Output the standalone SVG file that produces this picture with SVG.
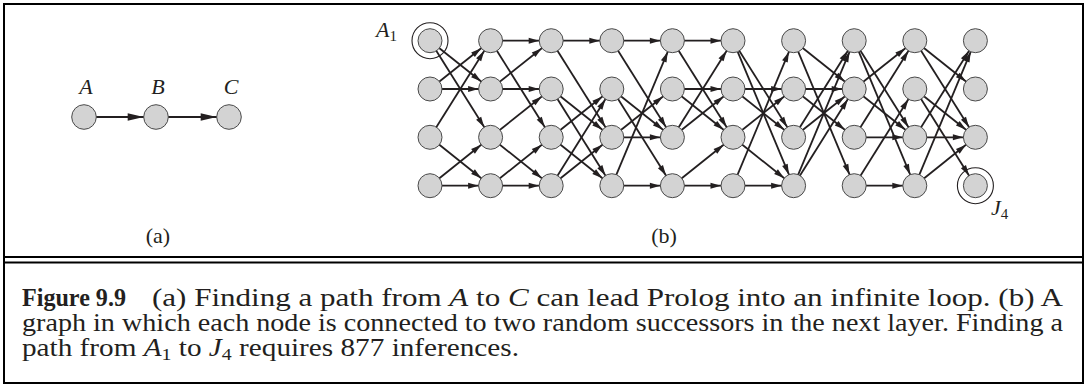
<svg xmlns="http://www.w3.org/2000/svg" width="1087" height="387" viewBox="0 0 1087 387">
<style>
.nd{fill:#d3d3d3;stroke:#4a4a4a;stroke-width:1}
.ring{fill:none;stroke:#231f20;stroke-width:1.1}
.e{stroke:#231f20;stroke-width:1.8;fill:none;marker-end:url(#ah)}
.ea{stroke:#231f20;stroke-width:2.2;fill:none;marker-end:url(#ahb)}
.t{font-family:"Liberation Serif",serif;fill:#231f20}
.m{font-family:"Liberation Serif",serif;font-style:italic;fill:#231f20}
.frame{fill:none;stroke:#000;stroke-width:2}
</style>
<defs>
<marker id="ah" markerUnits="userSpaceOnUse" markerWidth="10.5" markerHeight="6" refX="22.5" refY="3" orient="auto" overflow="visible"><path d="M0,0 L10.5,3 L0,6 z" fill="#231f20"/></marker>
<marker id="ahb" markerUnits="userSpaceOnUse" markerWidth="16" markerHeight="7.4" refX="28.3" refY="3.7" orient="auto" overflow="visible"><path d="M0,0 L16,3.7 L0,7.4 z" fill="#231f20"/></marker>
</defs>
<rect class="frame" x="4" y="4" width="1079" height="379"/>
<line x1="4" y1="257" x2="1083" y2="257" stroke="#000" stroke-width="2"/>
<line x1="4" y1="262.5" x2="1083" y2="262.5" stroke="#000" stroke-width="2"/>
<g id="connectors">
<line class="ea" x1="84" y1="117" x2="156" y2="117"/>
<line class="ea" x1="156" y1="117" x2="229" y2="117"/>
<line class="e" x1="430" y1="40.7" x2="490.6" y2="89"/>
<line class="e" x1="430" y1="40.7" x2="490.6" y2="137.3"/>
<line class="e" x1="430" y1="89" x2="490.6" y2="40.7"/>
<line class="e" x1="430" y1="89" x2="490.6" y2="89"/>
<line class="e" x1="430" y1="137.3" x2="490.6" y2="40.7"/>
<line class="e" x1="430" y1="137.3" x2="490.6" y2="185.7"/>
<line class="e" x1="430" y1="185.7" x2="490.6" y2="137.3"/>
<line class="e" x1="430" y1="185.7" x2="490.6" y2="185.7"/>
<line class="e" x1="490.6" y1="40.7" x2="551.2" y2="40.7"/>
<line class="e" x1="490.6" y1="40.7" x2="551.2" y2="137.3"/>
<line class="e" x1="490.6" y1="89" x2="551.2" y2="40.7"/>
<line class="e" x1="490.6" y1="89" x2="551.2" y2="89"/>
<line class="e" x1="490.6" y1="137.3" x2="551.2" y2="89"/>
<line class="e" x1="490.6" y1="137.3" x2="551.2" y2="185.7"/>
<line class="e" x1="490.6" y1="185.7" x2="551.2" y2="137.3"/>
<line class="e" x1="490.6" y1="185.7" x2="551.2" y2="185.7"/>
<line class="e" x1="551.2" y1="40.7" x2="611.8" y2="40.7"/>
<line class="e" x1="551.2" y1="40.7" x2="611.8" y2="137.3"/>
<line class="e" x1="551.2" y1="89" x2="611.8" y2="137.3"/>
<line class="e" x1="551.2" y1="89" x2="611.8" y2="185.7"/>
<line class="e" x1="551.2" y1="137.3" x2="611.8" y2="89"/>
<line class="e" x1="551.2" y1="137.3" x2="611.8" y2="185.7"/>
<line class="e" x1="551.2" y1="185.7" x2="611.8" y2="89"/>
<line class="e" x1="551.2" y1="185.7" x2="611.8" y2="137.3"/>
<line class="e" x1="611.8" y1="40.7" x2="672.4" y2="40.7"/>
<line class="e" x1="611.8" y1="40.7" x2="672.4" y2="137.3"/>
<line class="e" x1="611.8" y1="89" x2="672.4" y2="137.3"/>
<line class="e" x1="611.8" y1="89" x2="672.4" y2="185.7"/>
<line class="e" x1="611.8" y1="137.3" x2="672.4" y2="89"/>
<line class="e" x1="611.8" y1="137.3" x2="672.4" y2="137.3"/>
<line class="e" x1="611.8" y1="185.7" x2="672.4" y2="40.7"/>
<line class="e" x1="611.8" y1="185.7" x2="672.4" y2="185.7"/>
<line class="e" x1="672.4" y1="40.7" x2="733" y2="40.7"/>
<line class="e" x1="672.4" y1="40.7" x2="733" y2="137.3"/>
<line class="e" x1="672.4" y1="89" x2="733" y2="89"/>
<line class="e" x1="672.4" y1="89" x2="733" y2="137.3"/>
<line class="e" x1="672.4" y1="137.3" x2="733" y2="40.7"/>
<line class="e" x1="672.4" y1="137.3" x2="733" y2="89"/>
<line class="e" x1="672.4" y1="185.7" x2="733" y2="137.3"/>
<line class="e" x1="672.4" y1="185.7" x2="733" y2="185.7"/>
<line class="e" x1="733" y1="40.7" x2="793.6" y2="137.3"/>
<line class="e" x1="733" y1="40.7" x2="793.6" y2="185.7"/>
<line class="e" x1="733" y1="89" x2="793.6" y2="89"/>
<line class="e" x1="733" y1="89" x2="793.6" y2="137.3"/>
<line class="e" x1="733" y1="137.3" x2="793.6" y2="89"/>
<line class="e" x1="733" y1="137.3" x2="793.6" y2="185.7"/>
<line class="e" x1="733" y1="185.7" x2="793.6" y2="40.7"/>
<line class="e" x1="733" y1="185.7" x2="793.6" y2="185.7"/>
<line class="e" x1="793.6" y1="40.7" x2="854.2" y2="89"/>
<line class="e" x1="793.6" y1="40.7" x2="854.2" y2="185.7"/>
<line class="e" x1="793.6" y1="89" x2="854.2" y2="89"/>
<line class="e" x1="793.6" y1="89" x2="854.2" y2="137.3"/>
<line class="e" x1="793.6" y1="137.3" x2="854.2" y2="40.7"/>
<line class="e" x1="793.6" y1="137.3" x2="854.2" y2="89"/>
<line class="e" x1="793.6" y1="185.7" x2="854.2" y2="40.7"/>
<line class="e" x1="793.6" y1="185.7" x2="854.2" y2="89"/>
<line class="e" x1="854.2" y1="40.7" x2="914.8" y2="137.3"/>
<line class="e" x1="854.2" y1="40.7" x2="914.8" y2="185.7"/>
<line class="e" x1="854.2" y1="89" x2="914.8" y2="40.7"/>
<line class="e" x1="854.2" y1="89" x2="914.8" y2="137.3"/>
<line class="e" x1="854.2" y1="137.3" x2="914.8" y2="40.7"/>
<line class="e" x1="854.2" y1="137.3" x2="914.8" y2="137.3"/>
<line class="e" x1="854.2" y1="185.7" x2="914.8" y2="89"/>
<line class="e" x1="854.2" y1="185.7" x2="914.8" y2="185.7"/>
<line class="e" x1="914.8" y1="40.7" x2="975.4" y2="89"/>
<line class="e" x1="914.8" y1="40.7" x2="975.4" y2="137.3"/>
<line class="e" x1="914.8" y1="89" x2="975.4" y2="137.3"/>
<line class="e" x1="914.8" y1="89" x2="975.4" y2="185.7"/>
<line class="e" x1="914.8" y1="137.3" x2="975.4" y2="40.7"/>
<line class="e" x1="914.8" y1="137.3" x2="975.4" y2="137.3"/>
<line class="e" x1="914.8" y1="185.7" x2="975.4" y2="40.7"/>
<line class="e" x1="914.8" y1="185.7" x2="975.4" y2="137.3"/>
</g>
<g id="graph-a">
<g id="nA"><circle class="nd" cx="84" cy="117" r="12.3"/><text class="m" x="86" y="94" font-size="22" text-anchor="middle">A</text></g>
<g id="nB"><circle class="nd" cx="156" cy="117" r="12.3"/><text class="m" x="158" y="94" font-size="22" text-anchor="middle">B</text></g>
<g id="nC"><circle class="nd" cx="229" cy="117" r="12.3"/><text class="m" x="231" y="94" font-size="22" text-anchor="middle">C</text></g>
<text class="t" x="158" y="243" font-size="22" text-anchor="middle">(a)</text>
</g>
<g id="graph-b">
<g id="n-A1"><circle class="ring" cx="430" cy="40.7" r="18"/><circle class="nd" cx="430" cy="40.7" r="12"/><text class="m" x="376" y="37" font-size="22">A<tspan class="t" font-style="normal" font-size="15" dy="4">1</tspan></text></g>
<g id="n-A2"><circle class="nd" cx="430" cy="89" r="12"/></g>
<g id="n-A3"><circle class="nd" cx="430" cy="137.3" r="12"/></g>
<g id="n-A4"><circle class="nd" cx="430" cy="185.7" r="12"/></g>
<g id="n-B1"><circle class="nd" cx="490.6" cy="40.7" r="12"/></g>
<g id="n-B2"><circle class="nd" cx="490.6" cy="89" r="12"/></g>
<g id="n-B3"><circle class="nd" cx="490.6" cy="137.3" r="12"/></g>
<g id="n-B4"><circle class="nd" cx="490.6" cy="185.7" r="12"/></g>
<g id="n-C1"><circle class="nd" cx="551.2" cy="40.7" r="12"/></g>
<g id="n-C2"><circle class="nd" cx="551.2" cy="89" r="12"/></g>
<g id="n-C3"><circle class="nd" cx="551.2" cy="137.3" r="12"/></g>
<g id="n-C4"><circle class="nd" cx="551.2" cy="185.7" r="12"/></g>
<g id="n-D1"><circle class="nd" cx="611.8" cy="40.7" r="12"/></g>
<g id="n-D2"><circle class="nd" cx="611.8" cy="89" r="12"/></g>
<g id="n-D3"><circle class="nd" cx="611.8" cy="137.3" r="12"/></g>
<g id="n-D4"><circle class="nd" cx="611.8" cy="185.7" r="12"/></g>
<g id="n-E1"><circle class="nd" cx="672.4" cy="40.7" r="12"/></g>
<g id="n-E2"><circle class="nd" cx="672.4" cy="89" r="12"/></g>
<g id="n-E3"><circle class="nd" cx="672.4" cy="137.3" r="12"/></g>
<g id="n-E4"><circle class="nd" cx="672.4" cy="185.7" r="12"/></g>
<g id="n-F1"><circle class="nd" cx="733" cy="40.7" r="12"/></g>
<g id="n-F2"><circle class="nd" cx="733" cy="89" r="12"/></g>
<g id="n-F3"><circle class="nd" cx="733" cy="137.3" r="12"/></g>
<g id="n-F4"><circle class="nd" cx="733" cy="185.7" r="12"/></g>
<g id="n-G1"><circle class="nd" cx="793.6" cy="40.7" r="12"/></g>
<g id="n-G2"><circle class="nd" cx="793.6" cy="89" r="12"/></g>
<g id="n-G3"><circle class="nd" cx="793.6" cy="137.3" r="12"/></g>
<g id="n-G4"><circle class="nd" cx="793.6" cy="185.7" r="12"/></g>
<g id="n-H1"><circle class="nd" cx="854.2" cy="40.7" r="12"/></g>
<g id="n-H2"><circle class="nd" cx="854.2" cy="89" r="12"/></g>
<g id="n-H3"><circle class="nd" cx="854.2" cy="137.3" r="12"/></g>
<g id="n-H4"><circle class="nd" cx="854.2" cy="185.7" r="12"/></g>
<g id="n-I1"><circle class="nd" cx="914.8" cy="40.7" r="12"/></g>
<g id="n-I2"><circle class="nd" cx="914.8" cy="89" r="12"/></g>
<g id="n-I3"><circle class="nd" cx="914.8" cy="137.3" r="12"/></g>
<g id="n-I4"><circle class="nd" cx="914.8" cy="185.7" r="12"/></g>
<g id="n-J1"><circle class="nd" cx="975.4" cy="40.7" r="12"/></g>
<g id="n-J2"><circle class="nd" cx="975.4" cy="89" r="12"/></g>
<g id="n-J3"><circle class="nd" cx="975.4" cy="137.3" r="12"/></g>
<g id="n-J4"><circle class="ring" cx="975.4" cy="185.7" r="18"/><circle class="nd" cx="975.4" cy="185.7" r="12"/><text class="m" x="991" y="215" font-size="22">J<tspan class="t" font-style="normal" font-size="15" dy="4">4</tspan></text></g>
<text class="t" x="664" y="243" font-size="22" text-anchor="middle">(b)</text>
</g>
<g id="caption" font-size="25">
<text class="t" x="22" y="306" font-weight="bold" textLength="104" lengthAdjust="spacingAndGlyphs">Figure 9.9</text>
<text class="t" x="152" y="306" textLength="911" lengthAdjust="spacingAndGlyphs">(a) Finding a path from <tspan class="m">A</tspan> to <tspan class="m">C</tspan> can lead Prolog into an infinite loop.  (b) A</text>
<text class="t" x="22" y="331" textLength="1041" lengthAdjust="spacingAndGlyphs">graph in which each node is connected to two random successors in the next layer. Finding a</text>
<text class="t" x="22" y="356" textLength="497" lengthAdjust="spacingAndGlyphs">path from <tspan class="m">A</tspan><tspan font-size="17" dy="4">1</tspan><tspan dy="-4"> to </tspan><tspan class="m">J</tspan><tspan font-size="17" dy="4">4</tspan><tspan dy="-4"> requires 877 inferences.</tspan></text>
</g>
</svg>
